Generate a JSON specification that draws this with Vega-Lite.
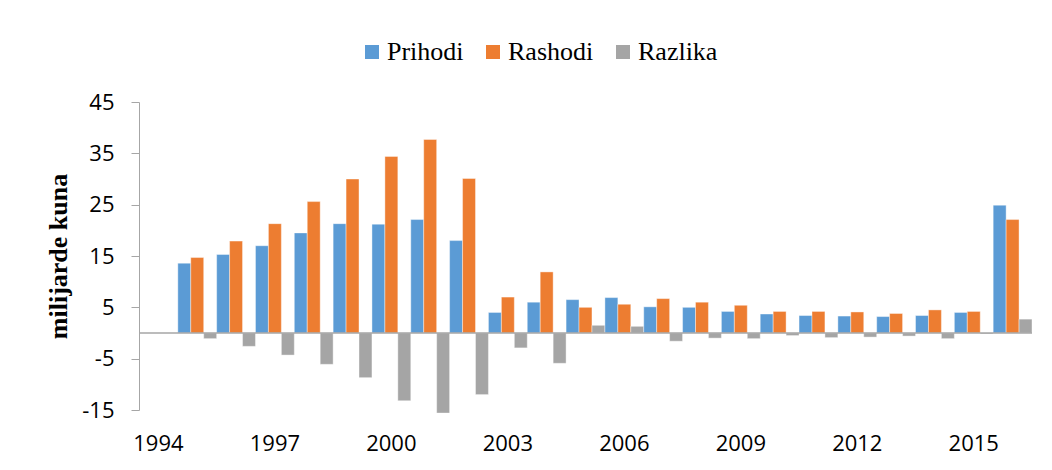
{
  "$schema": "https://vega.github.io/schema/vega-lite/v6.json",
  "width": 893,
  "height": 308,
  "autosize": {"type": "none"},
  "padding": {"left": 139, "top": 102, "right": 20, "bottom": 60},
  "background": "white",
  "config": {"view": {"stroke": null}},
  "data": {
    "values": [
      {"godina": 1995, "serija": "Prihodi", "vrijednost": 13.6},
      {"godina": 1995, "serija": "Rashodi", "vrijednost": 14.7},
      {"godina": 1995, "serija": "Razlika", "vrijednost": -1.1},
      {"godina": 1996, "serija": "Prihodi", "vrijednost": 15.3},
      {"godina": 1996, "serija": "Rashodi", "vrijednost": 17.9},
      {"godina": 1996, "serija": "Razlika", "vrijednost": -2.6},
      {"godina": 1997, "serija": "Prihodi", "vrijednost": 17.0},
      {"godina": 1997, "serija": "Rashodi", "vrijednost": 21.3},
      {"godina": 1997, "serija": "Razlika", "vrijednost": -4.3},
      {"godina": 1998, "serija": "Prihodi", "vrijednost": 19.5},
      {"godina": 1998, "serija": "Rashodi", "vrijednost": 25.6},
      {"godina": 1998, "serija": "Razlika", "vrijednost": -6.1},
      {"godina": 1999, "serija": "Prihodi", "vrijednost": 21.3},
      {"godina": 1999, "serija": "Rashodi", "vrijednost": 30.0},
      {"godina": 1999, "serija": "Razlika", "vrijednost": -8.7},
      {"godina": 2000, "serija": "Prihodi", "vrijednost": 21.2},
      {"godina": 2000, "serija": "Rashodi", "vrijednost": 34.4},
      {"godina": 2000, "serija": "Razlika", "vrijednost": -13.2},
      {"godina": 2001, "serija": "Prihodi", "vrijednost": 22.1},
      {"godina": 2001, "serija": "Rashodi", "vrijednost": 37.7},
      {"godina": 2001, "serija": "Razlika", "vrijednost": -15.6},
      {"godina": 2002, "serija": "Prihodi", "vrijednost": 18.0},
      {"godina": 2002, "serija": "Rashodi", "vrijednost": 30.1},
      {"godina": 2002, "serija": "Razlika", "vrijednost": -12.0},
      {"godina": 2003, "serija": "Prihodi", "vrijednost": 4.0},
      {"godina": 2003, "serija": "Rashodi", "vrijednost": 7.0},
      {"godina": 2003, "serija": "Razlika", "vrijednost": -2.9},
      {"godina": 2004, "serija": "Prihodi", "vrijednost": 6.0},
      {"godina": 2004, "serija": "Rashodi", "vrijednost": 11.9},
      {"godina": 2004, "serija": "Razlika", "vrijednost": -5.9},
      {"godina": 2005, "serija": "Prihodi", "vrijednost": 6.5},
      {"godina": 2005, "serija": "Rashodi", "vrijednost": 5.0},
      {"godina": 2005, "serija": "Razlika", "vrijednost": 1.5},
      {"godina": 2006, "serija": "Prihodi", "vrijednost": 6.9},
      {"godina": 2006, "serija": "Rashodi", "vrijednost": 5.6},
      {"godina": 2006, "serija": "Razlika", "vrijednost": 1.3},
      {"godina": 2007, "serija": "Prihodi", "vrijednost": 5.1},
      {"godina": 2007, "serija": "Rashodi", "vrijednost": 6.7},
      {"godina": 2007, "serija": "Razlika", "vrijednost": -1.6},
      {"godina": 2008, "serija": "Prihodi", "vrijednost": 5.0},
      {"godina": 2008, "serija": "Rashodi", "vrijednost": 6.0},
      {"godina": 2008, "serija": "Razlika", "vrijednost": -1.0},
      {"godina": 2009, "serija": "Prihodi", "vrijednost": 4.2},
      {"godina": 2009, "serija": "Rashodi", "vrijednost": 5.4},
      {"godina": 2009, "serija": "Razlika", "vrijednost": -1.1},
      {"godina": 2010, "serija": "Prihodi", "vrijednost": 3.7},
      {"godina": 2010, "serija": "Rashodi", "vrijednost": 4.2},
      {"godina": 2010, "serija": "Razlika", "vrijednost": -0.5},
      {"godina": 2011, "serija": "Prihodi", "vrijednost": 3.4},
      {"godina": 2011, "serija": "Rashodi", "vrijednost": 4.2},
      {"godina": 2011, "serija": "Razlika", "vrijednost": -0.9},
      {"godina": 2012, "serija": "Prihodi", "vrijednost": 3.3},
      {"godina": 2012, "serija": "Rashodi", "vrijednost": 4.1},
      {"godina": 2012, "serija": "Razlika", "vrijednost": -0.8},
      {"godina": 2013, "serija": "Prihodi", "vrijednost": 3.2},
      {"godina": 2013, "serija": "Rashodi", "vrijednost": 3.8},
      {"godina": 2013, "serija": "Razlika", "vrijednost": -0.6},
      {"godina": 2014, "serija": "Prihodi", "vrijednost": 3.4},
      {"godina": 2014, "serija": "Rashodi", "vrijednost": 4.5},
      {"godina": 2014, "serija": "Razlika", "vrijednost": -1.1},
      {"godina": 2015, "serija": "Prihodi", "vrijednost": 4.0},
      {"godina": 2015, "serija": "Rashodi", "vrijednost": 4.2},
      {"godina": 2015, "serija": "Razlika", "vrijednost": -0.2},
      {"godina": 2016, "serija": "Prihodi", "vrijednost": 24.9},
      {"godina": 2016, "serija": "Rashodi", "vrijednost": 22.1},
      {"godina": 2016, "serija": "Razlika", "vrijednost": 2.7}
    ]
  },
  "layer": [
    {
      "mark": {"type": "bar", "stroke": "white", "strokeWidth": 0.8, "strokeOpacity": 0.5},
      "encoding": {
        "x": {
          "field": "godina",
          "type": "ordinal",
          "scale": {
            "domain": [1994, 1995, 1996, 1997, 1998, 1999, 2000, 2001, 2002, 2003, 2004, 2005, 2006, 2007, 2008, 2009, 2010, 2011, 2012, 2013, 2014, 2015, 2016],
            "paddingInner": 0,
            "paddingOuter": 0
          },
          "axis": {
            "title": null,
            "domain": false,
            "ticks": false,
            "labelAngle": 0,
            "labelOverlap": false,
            "labelExpr": "(datum.value - 1994) % 3 === 0 ? datum.value : ''",
            "labelFont": "Open Sans",
            "labelFontSize": 22,
            "labelColor": "#000000",
            "labelPadding": 23
          }
        },
        "xOffset": {
          "field": "serija",
          "type": "nominal",
          "scale": {"domain": ["Prihodi", "Rashodi", "Razlika"], "paddingInner": 0, "paddingOuter": 0}
        },
        "y": {
          "field": "vrijednost",
          "type": "quantitative",
          "scale": {"domain": [-15, 45], "nice": false},
          "axis": {
            "values": [-15, -5, 5, 15, 25, 35, 45],
            "labelExpr": "'' + datum.value",
            "grid": false,
            "tickSize": 8,
            "tickColor": "#a6a6a6",
            "domainColor": "#a6a6a6",
            "labelFont": "Open Sans",
            "labelFontSize": 22,
            "labelColor": "#000000",
            "labelPadding": 17,
            "title": "milijarde kuna",
            "titleFont": "Liberation Serif",
            "titleFontWeight": "bold",
            "titleFontSize": 26,
            "titleColor": "#000000",
            "titlePadding": 10
          }
        },
        "color": {
          "field": "serija",
          "type": "nominal",
          "scale": {"domain": ["Prihodi", "Rashodi", "Razlika"], "range": ["#5b9bd5", "#ed7d31", "#a5a5a5"]},
          "legend": {
            "orient": "none",
            "legendX": 220,
            "legendY": -63,
            "direction": "horizontal",
            "title": null,
            "padding": 0,
            "symbolType": "square",
            "symbolSize": 196,
            "symbolStrokeWidth": 0,
            "symbolOpacity": 1,
            "labelFont": "Liberation Serif",
            "labelFontSize": 26,
            "labelColor": "#000000",
            "labelOffset": 2,
            "columnPadding": 16
          }
        }
      }
    },
    {
      "data": {"values": [{"nula": 0}]},
      "mark": {"type": "rule", "color": "#a6a6a6", "strokeWidth": 1.5},
      "encoding": {"y": {"field": "nula", "type": "quantitative"}}
    }
  ]
}
